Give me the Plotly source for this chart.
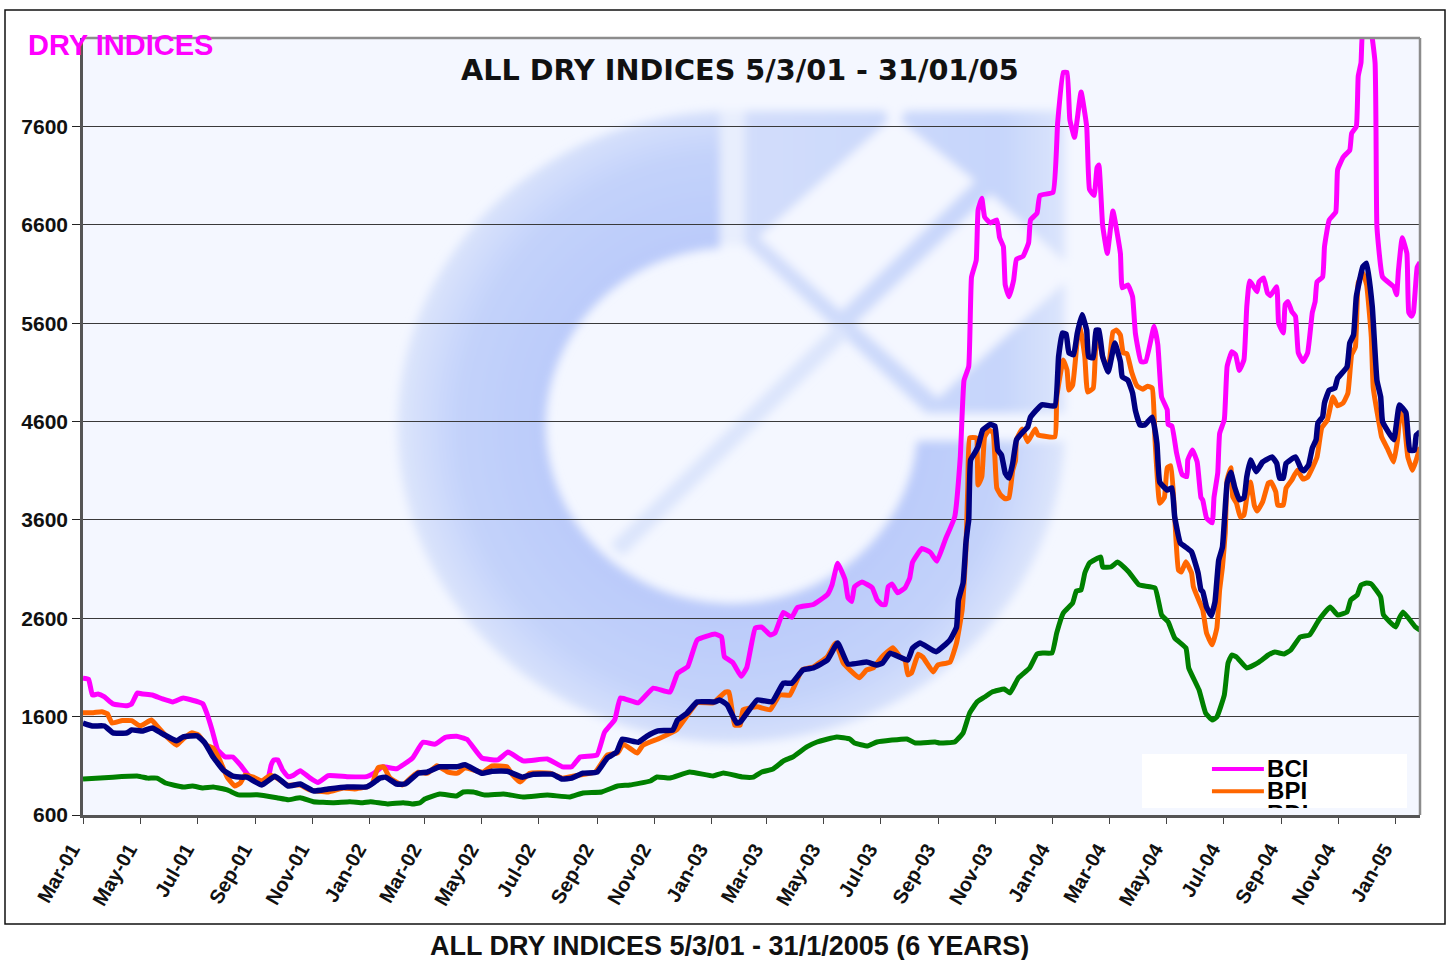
import base64
import pandas as pd
import plotly.graph_objects as go

START = "2001-03-05"
END = "2005-01-31"

BCI_DAYS = [0,6,10,16,23,32,47,52,58,64,74,85,96,107,123,128,132,138,144,152,160,168,178,191,198,201,204,208,213,219,224,232,242,251,262,282,303,310,320,335,352,363,376,387,399,410,426,443,454,470,496,512,522,531,549,557,568,574,593,609,627,635,646,656,675,682,685,694,703,709,718,725,734,739,748,757,763,780,795,800,806,814,817,821,824,832,843,848,853,857,860,864,870,878,883,886,896,905,912,921,931,937,941,946,949,954,956,960,963,969,976,979,983,985,989,994,997,1004,1010,1012,1019,1022,1036,1041,1047,1051,1054,1059,1066,1072,1075,1080,1083,1085,1089,1094,1100,1108,1110,1116,1121,1124,1130,1135,1144,1148,1152,1158,1159,1163,1168,1174,1179,1180,1185,1190,1194,1196,1200,1206,1208,1212,1214,1219,1222,1227,1231,1235,1240,1243,1246,1254,1256,1261,1265,1268,1275,1277,1282,1284,1287,1291,1295,1298,1303,1308,1313,1316,1318,1324,1326,1331,1338,1340,1346,1353,1355,1360,1362,1365,1367,1371,1375,1380,1381,1382,1388,1400,1403,1405,1409,1414,1416,1419,1421,1425,1428]
BCI_VALUES = [1990,1980,1820,1830,1800,1730,1710,1730,1840,1830,1820,1780,1750,1790,1750,1730,1640,1460,1260,1190,1190,1110,990,940,990,1110,1160,1160,1060,990,1000,1050,980,930,1000,990,990,1020,1090,1070,1180,1340,1320,1390,1400,1370,1180,1160,1240,1150,1170,1090,1090,1190,1210,1440,1570,1790,1740,1890,1850,2040,2110,2380,2440,2410,2210,2150,2010,2100,2500,2510,2430,2450,2660,2610,2710,2740,2840,2940,3160,2990,2810,2770,2920,2970,2910,2790,2740,2740,2920,2950,2860,2910,3010,3170,3310,3270,3180,3400,3630,4240,5020,5160,6070,6240,6750,6870,6680,6620,6650,6470,6380,5990,5870,6040,6250,6280,6420,6650,6720,6900,6930,7640,8150,8150,7670,7490,7950,7600,6960,6900,7180,7210,6600,6310,6740,6310,5960,5990,5870,5500,5210,5210,5570,5380,4850,4720,4570,4555,4280,4060,4040,4210,4310,4190,3830,3800,3620,3570,3830,4080,4480,4620,5160,5310,5280,5120,5230,5770,6030,5920,6020,6060,5910,5880,5970,5600,5500,5790,5820,5720,5670,5300,5210,5300,5710,5820,6020,6070,6380,6650,6730,7160,7290,7360,7530,7600,8110,8250,8600,8600,8600,8250,7570,6580,6070,5970,5890,6140,6470,6310,5710,5670,5710,6170,6220]

BPI_DAYS = [0,11,20,26,31,42,52,61,73,80,91,100,106,116,123,132,139,146,154,162,168,173,182,191,200,207,218,232,242,262,278,290,303,309,315,321,328,341,351,358,368,378,390,400,408,427,437,453,459,467,477,499,512,529,547,560,571,577,592,598,616,634,656,673,686,690,696,702,705,720,734,744,755,768,780,795,804,812,819,829,837,844,853,865,873,878,881,885,892,897,908,913,926,933,939,941,943,945,947,954,956,960,963,968,972,976,980,985,989,993,996,997,1003,1009,1017,1020,1038,1040,1047,1051,1053,1057,1062,1065,1070,1073,1079,1082,1085,1089,1095,1100,1104,1108,1111,1115,1120,1126,1132,1137,1142,1145,1150,1155,1158,1162,1166,1170,1173,1178,1184,1186,1193,1196,1200,1206,1211,1214,1217,1220,1222,1226,1228,1232,1236,1240,1243,1247,1251,1254,1260,1266,1269,1274,1276,1282,1285,1291,1297,1303,1308,1318,1323,1329,1335,1340,1346,1351,1355,1359,1362,1367,1371,1376,1378,1385,1387,1393,1400,1404,1407,1411,1415,1420,1424,1428]
BPI_VALUES = [1640,1640,1650,1630,1535,1560,1560,1505,1565,1495,1380,1310,1365,1435,1415,1310,1280,1160,985,895,925,1005,985,945,1005,975,905,905,855,835,875,865,885,920,1080,1090,975,905,985,1035,1025,1100,1035,1025,1080,1035,1100,1090,1005,935,1025,1025,975,1005,1035,1210,1230,1320,1230,1310,1380,1465,1740,1740,1850,1850,1515,1515,1670,1700,1670,1820,1820,2075,2105,2210,2350,2145,2075,1995,2075,2095,2205,2300,2205,2175,2025,2045,2235,2205,2055,2125,2155,2350,2685,2950,3300,3935,4435,4435,3955,4040,4445,4515,4485,3925,3855,3815,3825,4105,4205,4415,4525,4395,4525,4465,4445,4850,5225,5125,4920,4970,5430,5565,5260,4900,4940,5390,5430,5260,5125,5510,5530,5480,5300,5290,5105,4960,4930,4960,4940,4415,3770,3830,4130,4150,3630,3090,3070,3175,3060,2920,2755,2685,2450,2330,2500,2890,3120,3470,4010,4130,3835,3770,3630,3650,3830,3985,3750,3690,3785,3975,3985,3885,3750,3750,3925,4005,4105,4015,4035,4240,4535,4615,4850,4760,4790,4890,5280,5360,6010,6110,5990,5460,4950,4545,4445,4330,4190,4415,4690,4600,4240,4105,4210,4340]

BDI_DAYS = [0,10,23,32,47,52,64,74,85,100,107,122,130,139,150,160,171,175,191,205,219,232,246,262,282,303,310,317,323,335,344,358,367,381,399,408,426,437,453,469,481,501,512,522,534,549,560,570,576,593,602,614,630,635,645,656,675,680,688,698,702,720,736,748,757,769,780,795,806,817,837,848,854,862,881,886,894,911,926,933,935,940,943,945,946,948,953,956,961,969,974,977,981,985,989,993,997,1003,1009,1012,1024,1038,1042,1046,1050,1053,1058,1062,1067,1072,1074,1079,1082,1085,1089,1095,1102,1108,1110,1116,1121,1124,1129,1134,1142,1147,1150,1158,1163,1166,1172,1179,1184,1191,1194,1196,1200,1205,1209,1213,1217,1222,1226,1230,1235,1240,1243,1247,1253,1260,1270,1275,1278,1282,1285,1295,1301,1304,1309,1313,1317,1319,1324,1326,1331,1337,1340,1350,1353,1357,1360,1367,1371,1377,1382,1386,1388,1400,1406,1413,1417,1422,1424,1428]
BDI_VALUES = [1535,1505,1505,1435,1435,1465,1455,1485,1425,1355,1395,1405,1335,1190,1055,995,985,985,905,995,895,915,845,865,885,885,925,975,985,915,915,1025,1035,1090,1090,1110,1025,1045,1045,985,1015,1015,965,975,1025,1035,1180,1240,1370,1340,1400,1455,1465,1565,1635,1750,1750,1770,1720,1535,1545,1770,1750,1940,1940,2075,2095,2175,2350,2135,2155,2125,2145,2245,2175,2295,2350,2260,2380,2510,2785,2960,3365,3530,3600,4210,4290,4345,4515,4570,4555,4310,4260,4075,4025,4175,4415,4485,4545,4645,4770,4760,5260,5500,5490,5300,5280,5500,5685,5530,5260,5250,5530,5530,5260,5105,5400,5210,5055,5020,4890,4715,4565,4565,4645,4380,3985,3905,3925,3630,3365,3315,3275,3060,2890,2870,2715,2625,2765,3190,3325,3975,4085,3935,3805,3825,4040,4210,4090,4190,4240,4175,4025,4025,4175,4240,4120,4100,4160,4330,4415,4585,4650,4790,4920,4940,5040,5155,5400,5480,5870,6175,6210,5770,5020,4850,4600,4415,4770,4690,4310,4310,4460,4495]

BHMI_DAYS = [0,32,59,69,79,88,107,117,128,139,154,166,186,207,219,232,246,267,285,299,307,325,342,352,360,365,381,399,406,417,429,449,470,496,520,534,554,571,584,606,613,627,648,673,684,705,716,725,737,748,758,773,784,805,819,824,838,848,880,889,910,915,931,940,947,955,963,971,984,990,999,1011,1019,1025,1035,1040,1047,1057,1061,1066,1070,1075,1087,1089,1098,1105,1117,1128,1145,1152,1159,1166,1178,1181,1192,1199,1206,1211,1219,1223,1227,1232,1243,1256,1266,1273,1283,1290,1300,1310,1320,1332,1340,1350,1354,1361,1365,1371,1376,1386,1389,1402,1406,1410,1423,1428]
BHMI_VALUES = [966,985,995,975,975,925,885,895,875,885,855,805,805,775,755,775,735,725,735,725,735,712,725,712,725,763,814,793,834,834,803,814,783,803,783,824,834,895,905,946,986,976,1037,997,1027,986,986,1037,1068,1149,1190,1292,1342,1393,1373,1332,1302,1342,1373,1332,1342,1332,1342,1434,1637,1750,1800,1851,1881,1841,1993,2095,2237,2247,2247,2451,2654,2756,2878,2888,3061,3162,3223,3122,3122,3173,3071,2939,2908,2634,2563,2400,2298,2095,1871,1637,1566,1596,1820,2145,2227,2206,2095,2155,2227,2257,2237,2278,2410,2430,2583,2715,2634,2664,2786,2837,2939,2959,2949,2817,2634,2512,2603,2664,2512,2481]

Y_TICKS = [600, 1600, 2600, 3600, 4600, 5600, 6600, 7600]
X_TICK_DATES = ["2001-03-05","2001-05-05","2001-07-05","2001-09-05","2001-11-05","2002-01-05","2002-03-05","2002-05-05","2002-07-05","2002-09-05","2002-11-05","2003-01-05","2003-03-05","2003-05-05","2003-07-05","2003-09-05","2003-11-05","2004-01-05","2004-03-05","2004-05-05","2004-07-05","2004-09-05","2004-11-05","2005-01-05"]
X_TICK_LABELS = ["Mar-01","May-01","Jul-01","Sep-01","Nov-01","Jan-02","Mar-02","May-02","Jul-02","Sep-02","Nov-02","Jan-03","Mar-03","May-03","Jul-03","Sep-03","Nov-03","Jan-04","Mar-04","May-04","Jul-04","Sep-04","Nov-04","Jan-05"]

W, H = 1451, 960
L, R, T, B = 83, 1420, 38, 815
BG = "#F4F7FF"
FONT = "Liberation Sans"
px = lambda x: (x - L) / (R - L)
py = lambda y: (B - y) / (B - T)


def dates(days):
    return pd.Timestamp(START) + pd.to_timedelta(days, unit="D")


logo_svg = f'''<svg xmlns="http://www.w3.org/2000/svg" width="{R-L}" height="{B-T}" viewBox="{L} {T} {R-L} {B-T}">
<defs>
<filter id="b" x="-10%" y="-10%" width="120%" height="120%"><feGaussianBlur stdDeviation="5"/></filter>
<radialGradient id="g" gradientUnits="userSpaceOnUse" cx="731" cy="427" r="340">
<stop offset="0.55" stop-color="#BBCBFA"/><stop offset="0.8" stop-color="#C3D2FA"/><stop offset="1" stop-color="#E0E8FC"/>
</radialGradient>
<linearGradient id="s" x1="0" y1="0" x2="1" y2="0">
<stop offset="0" stop-color="#D2DDFB"/><stop offset="0.8" stop-color="#C6D5FB"/><stop offset="1" stop-color="#DCE5FC"/>
</linearGradient>
</defs>
<g filter="url(#b)">
<path d="M720,111 A334,316 0 1 0 1065,441 L917,441 A186,178 0 1 1 720,248 Z" fill="url(#g)"/>
<rect x="720" y="111" width="25" height="134" fill="#E8EEFD"/>
<polygon points="745,111 1065,111 1065,413 926,413 745,244" fill="url(#s)"/>
<polygon points="894,116 975,181 841,311 759,237" fill="{BG}"/>
<polygon points="885,105 907,105 900,122 888,122" fill="{BG}"/>
<polygon points="991,194 1066,263 1066,281 938,398 855,324" fill="{BG}"/>
<polygon points="610,545 623,556 850,335 838,322" fill="#DCE5FC"/>
</g></svg>'''
logo_uri = "data:image/svg+xml;base64," + base64.b64encode(logo_svg.encode()).decode()

fig = go.Figure()
SERIES = [
    ("BCI", BCI_DAYS, BCI_VALUES, "#FF00FF", 5),
    ("BPI", BPI_DAYS, BPI_VALUES, "#FF6600", 5),
    ("BHMI", BHMI_DAYS, BHMI_VALUES, "#008000", 5),
    ("BDI", BDI_DAYS, BDI_VALUES, "#000080", 5.5),
]
for name, d, v, c, w in SERIES:
    fig.add_trace(go.Scatter(x=dates(d), y=v, mode="lines", name=name,
                             line=dict(color=c, width=w, shape="spline", smoothing=0.35),
                             showlegend=False, hoverinfo="x+y+name"))

# hand-built key, clipped by its own small axes like the reference's cut-off box
fig.add_trace(go.Scatter(x=[0, 1, 1, 0, 0], y=[0, 0, 1, 1, 0], mode="lines", fill="toself", fillcolor="white",
                         line=dict(width=0, color="white"), xaxis="x2", yaxis="y2", showlegend=False, hoverinfo="skip"))
KEY_LABELS = ["BCI", "BPI", "BDI"]
KEY_COLORS = ["#FF00FF", "#FF6600", "#000080"]
KEY_LINE_ROWS = [0.72, 0.31, None]
KEY_TEXT_ROWS = [0.69, 0.27, -0.14]
for lab, col, lrow, trow in zip(KEY_LABELS, KEY_COLORS, KEY_LINE_ROWS, KEY_TEXT_ROWS):
    if lrow is not None:
        fig.add_trace(go.Scatter(x=[0.264, 0.46], y=[lrow, lrow], mode="lines", xaxis="x2", yaxis="y2",
                                 line=dict(color=col, width=4), showlegend=False, hoverinfo="skip"))
    fig.add_trace(go.Scatter(x=[0.472], y=[trow], mode="text", text=[lab], textposition="middle right",
                             textfont=dict(family=FONT, size=24, color="black", weight="bold"), xaxis="x2", yaxis="y2",
                             showlegend=False, hoverinfo="skip"))

shapes = [
    dict(type="rect", xref="paper", yref="paper", x0=px(5), x1=px(1445), y0=py(924), y1=py(10),
         line=dict(color="#111", width=1.5), fillcolor="rgba(0,0,0,0)", layer="below"),
    dict(type="line", xref="paper", yref="paper", x0=0, x1=1, y0=1, y1=1, line=dict(color="#8C8C8C", width=2.5)),
    dict(type="line", xref="paper", yref="paper", x0=1, x1=1, y0=0, y1=1, line=dict(color="#8C8C8C", width=2.5)),
]

annotations = [
    dict(text="<b>DRY INDICES</b>", x=px(26), y=py(45), xref="paper", yref="paper", showarrow=False, xanchor="left",
         yanchor="middle", font=dict(family=FONT, size=29, color="#FF00FF")),
    dict(text="<b>ALL DRY INDICES 5/3/01 - 31/01/05</b>", x=px(740), y=py(70), xref="paper", yref="paper",
         showarrow=False, xanchor="center", yanchor="middle", font=dict(family="DejaVu Sans", size=28.7, color="#111")),
    dict(text="<b>ALL DRY INDICES 5/3/01 - 31/1/2005 (6 YEARS)</b>", x=px(729.5), y=py(946), xref="paper", yref="paper",
         showarrow=False, xanchor="center", yanchor="middle", font=dict(family=FONT, size=27, color="#111")),
]

fig.update_layout(
    width=W, height=H, autosize=False,
    margin=dict(l=L, r=W - R, t=T, b=H - B, pad=0),
    paper_bgcolor="white", plot_bgcolor=BG,
    showlegend=False,
    xaxis=dict(type="date", range=[START, END], tickmode="array", tickvals=X_TICK_DATES, ticktext=X_TICK_LABELS,
               tickangle=-60, ticks="outside", ticklen=6, tickcolor="#444", tickwidth=1,
               showline=True, linecolor="#555", linewidth=2.5, showgrid=False, zeroline=False,
               ticklabelstandoff=6, ticklabelshift=-11,
               tickfont=dict(family=FONT, size=20, color="#111", weight="bold")),
    yaxis=dict(range=[600, 8500], tickmode="array", tickvals=Y_TICKS, ticks="outside", ticklen=8,
               tickcolor="#222", showline=True, linecolor="#555", linewidth=2.5, showgrid=True, gridcolor="#3A3A3A",
               gridwidth=1, zeroline=False, tickformat="d",
               tickfont=dict(family=FONT, size=21, color="#111", weight="bold")),
    xaxis2=dict(domain=[px(1142), px(1407)], range=[0, 1], anchor="y2", visible=False, fixedrange=True),
    yaxis2=dict(domain=[py(808), py(754)], range=[0, 1], anchor="x2", visible=False, fixedrange=True),
    shapes=shapes, annotations=annotations,
    images=[dict(source=logo_uri, xref="paper", yref="paper", x=0, y=1, sizex=1, sizey=1, xanchor="left",
                 yanchor="top", sizing="stretch", layer="below")],
)

fig.write_html("out.html", config={"displayModeBar": False}, post_script="document.body.style.margin='0';")
